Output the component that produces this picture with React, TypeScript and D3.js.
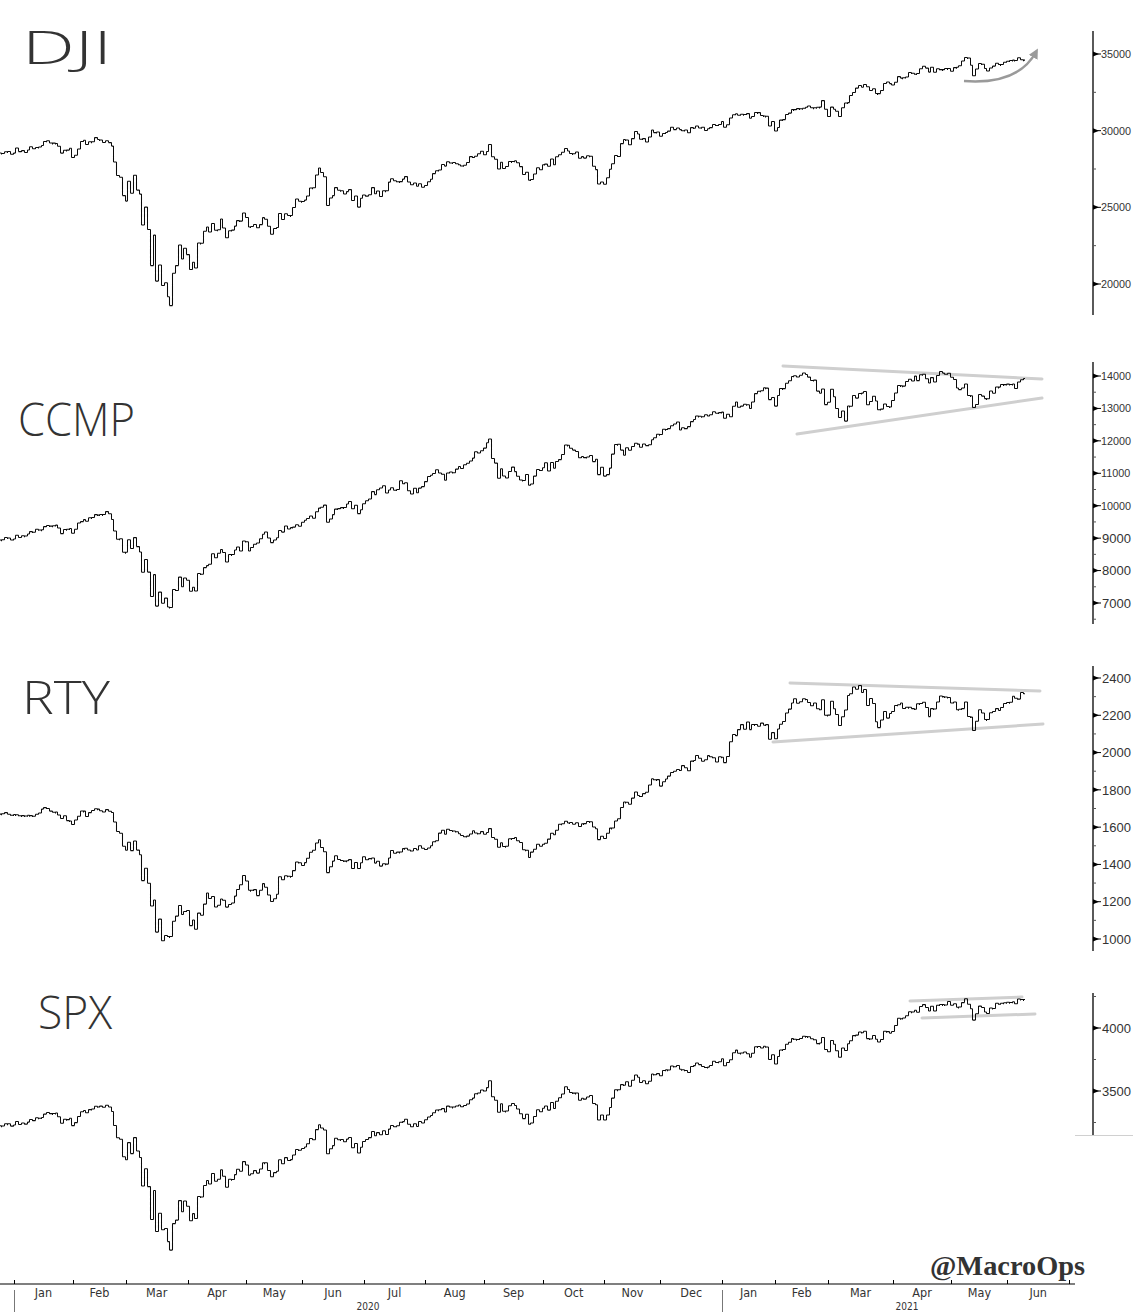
import React, { useMemo } from "react";
import * as d3 from "d3";

// ---------- calendar ----------
const START_DAY = "2019-12-23";
const AXIS_END_DAY = "2021-06-30";
const HOLIDAYS = [
  "2019-12-25", "2020-01-01", "2020-01-20", "2020-02-17", "2020-04-10", "2020-05-25",
  "2020-07-03", "2020-09-07", "2020-11-26", "2020-12-25", "2021-01-01", "2021-01-18",
  "2021-02-15", "2021-04-02", "2021-05-31",
];
const MONTH_KEYS = [
  "2019-12", "2020-01", "2020-02", "2020-03", "2020-04", "2020-05", "2020-06", "2020-07",
  "2020-08", "2020-09", "2020-10", "2020-11", "2020-12", "2021-01", "2021-02", "2021-03",
  "2021-04", "2021-05", "2021-06",
];
const MONTH_LABELS = ["Jan", "Feb", "Mar", "Apr", "May", "Jun", "Jul", "Aug", "Sep", "Oct", "Nov", "Dec"];

// ---------- daily closes, one row per month ----------
const DJI_CLOSE = [
  [28551, 28516, 28621, 28645, 28462, 28538],
  [28869, 28635, 28703, 28584, 28745, 28957, 28824, 28907, 28940, 29030, 29298, 29348, 29196, 29186, 29160, 28990, 28536, 28723, 28735, 28859, 28256],
  [28400, 28808, 29291, 29380, 29103, 29277, 29276, 29551, 29423, 29398, 29232, 29348, 29220, 28992, 27961, 27081, 26958, 25767, 25409],
  [26703, 25917, 27091, 26121, 25865, 23851, 25018, 23553, 21201, 23186, 20189, 21237, 19899, 20087, 19174, 18592, 20705, 21201, 22552, 21637, 22328, 21917],
  [20944, 21413, 21053, 22680, 22654, 23434, 23719, 23391, 23950, 23504, 23538, 24243, 23650, 23019, 23476, 23515, 23775, 24134, 24102, 24634, 24346],
  [23724, 23750, 23883, 23665, 23876, 24331, 24222, 23765, 23248, 23625, 23685, 24597, 24207, 24576, 24474, 24465, 24995, 25548, 25401, 25383],
  [25475, 25743, 26270, 26282, 27111, 27572, 27272, 26990, 25128, 25606, 25763, 26290, 26120, 26080, 25872, 26025, 26156, 25446, 25746, 25016, 25596, 25813],
  [25735, 25827, 26287, 25890, 26067, 25706, 26075, 26086, 26643, 26870, 26735, 26672, 26681, 26840, 27006, 26652, 26470, 26585, 26379, 26540, 26314, 26428],
  [26664, 26829, 27202, 27387, 27434, 27791, 27687, 27977, 27897, 27931, 27845, 27778, 27693, 27740, 27930, 28309, 28248, 28332, 28492, 28654, 28430],
  [28646, 29101, 28293, 28133, 27501, 27941, 27535, 27666, 27993, 27996, 28032, 27902, 27657, 27148, 27288, 26763, 26815, 27174, 27584, 27453, 27782],
  [27817, 27683, 28149, 27773, 28304, 28426, 28587, 28838, 28680, 28514, 28494, 28606, 28195, 28309, 28211, 28364, 28336, 27685, 27463, 26520, 26659, 26502],
  [26925, 27480, 27848, 28390, 28323, 29158, 29421, 29398, 29080, 29480, 29950, 29783, 29438, 29483, 29264, 29591, 30046, 29873, 29910, 29639],
  [29824, 29884, 29970, 30218, 30070, 30174, 30069, 29999, 30046, 29862, 30199, 30155, 30303, 30179, 30217, 30016, 30130, 30200, 30404, 30336, 30410, 30607],
  [30224, 30392, 30829, 31041, 31098, 31009, 31069, 31061, 31113, 30814, 30931, 31188, 31176, 30997, 30960, 30937, 30303, 30603, 29983],
  [30212, 30688, 30724, 31056, 31148, 31386, 31376, 31438, 31431, 31458, 31523, 31613, 31493, 31494, 31522, 31537, 31962, 31402, 30932],
  [31535, 31392, 31270, 30924, 31496, 31802, 31833, 32297, 32486, 32779, 32954, 32826, 33015, 32862, 32628, 32731, 32423, 32420, 32620, 33073, 33171, 33067, 32982],
  [33153, 33527, 33430, 33446, 33504, 33801, 33745, 33677, 33731, 34036, 34201, 34078, 33821, 34137, 33816, 34044, 33982, 33985, 34060, 34060, 33875],
  [34113, 34133, 34230, 34549, 34778, 34743, 34269, 33588, 34022, 34382, 34328, 34061, 33896, 34084, 34208, 34394, 34313, 34323, 34465, 34529],
  [34575, 34600, 34577, 34756, 34630, 34600],
];

const CCMP_CLOSE = [
  [8946, 8953, 9022, 9007, 8946, 8973],
  [9092, 9021, 9072, 9069, 9129, 9203, 9179, 9274, 9251, 9259, 9357, 9389, 9371, 9384, 9403, 9315, 9139, 9270, 9275, 9299, 9151],
  [9273, 9468, 9509, 9572, 9521, 9628, 9639, 9726, 9712, 9731, 9733, 9817, 9751, 9577, 9221, 8966, 8981, 8567, 8567],
  [8952, 8684, 9018, 8739, 8576, 7951, 8344, 7952, 7202, 7875, 6905, 7335, 6990, 7151, 6880, 6861, 7418, 7384, 7798, 7502, 7774, 7700],
  [7361, 7487, 7373, 7913, 7887, 8091, 8154, 8192, 8516, 8393, 8532, 8650, 8561, 8263, 8495, 8495, 8635, 8730, 8608, 8915, 8890],
  [8605, 8711, 8809, 8854, 8980, 9121, 9192, 9003, 8863, 8944, 9015, 9235, 9185, 9376, 9285, 9325, 9340, 9412, 9369, 9490],
  [9552, 9608, 9683, 9616, 9814, 9925, 9954, 10020, 9493, 9589, 9726, 9896, 9911, 9943, 9946, 10057, 10131, 9909, 10017, 9757, 9874, 10059],
  [10155, 10208, 10434, 10344, 10493, 10548, 10617, 10391, 10489, 10551, 10474, 10503, 10767, 10680, 10706, 10461, 10363, 10536, 10402, 10543, 10588, 10745],
  [10903, 10941, 10998, 11108, 11011, 10968, 10783, 11012, 11043, 11019, 11130, 11211, 11147, 11265, 11312, 11380, 11467, 11665, 11625, 11696, 11776],
  [11940, 12056, 11458, 11313, 10848, 11142, 10920, 10854, 11057, 11190, 11051, 10910, 10793, 10779, 10964, 10633, 10672, 10914, 11118, 11085, 11168],
  [11327, 11075, 11333, 11155, 11365, 11421, 11580, 11876, 11864, 11769, 11714, 11672, 11479, 11517, 11485, 11506, 11548, 11359, 11431, 10958, 11186, 10912],
  [10958, 11161, 11591, 11891, 11895, 11714, 11554, 11786, 11710, 11829, 11924, 11899, 11802, 11905, 11855, 11881, 12037, 12094, 12206, 12199],
  [12355, 12349, 12377, 12464, 12520, 12583, 12339, 12406, 12378, 12440, 12595, 12658, 12765, 12756, 12743, 12808, 12771, 12805, 12899, 12850, 12870, 12888],
  [12698, 12819, 12741, 13068, 13202, 13036, 13072, 13129, 13113, 12999, 13197, 13457, 13531, 13543, 13636, 13626, 13271, 13337, 13071],
  [13403, 13613, 13611, 13778, 13856, 13988, 14008, 13973, 14026, 14096, 14048, 13966, 13865, 13875, 13533, 13465, 13598, 13119, 13192],
  [13589, 13359, 12998, 12724, 12920, 12609, 13074, 13069, 13399, 13320, 13460, 13472, 13525, 13116, 13215, 13378, 13228, 12962, 12978, 13139, 13060, 13045, 13247],
  [13480, 13706, 13698, 13689, 13829, 13900, 13850, 13996, 13858, 14039, 14052, 13915, 13786, 13950, 13818, 14017, 14139, 14090, 14051, 14083, 13963],
  [13895, 13634, 13582, 13633, 13752, 13402, 13389, 13032, 13125, 13430, 13379, 13304, 13300, 13536, 13471, 13661, 13657, 13738, 13736, 13749],
  [13737, 13756, 13615, 13815, 13882, 13925],
];

const RTY_CLOSE = [
  [1670, 1672, 1678, 1669, 1664, 1668],
  [1667, 1661, 1662, 1660, 1664, 1662, 1658, 1669, 1676, 1697, 1705, 1700, 1686, 1680, 1681, 1665, 1647, 1661, 1635, 1633, 1614],
  [1639, 1658, 1687, 1686, 1657, 1678, 1690, 1699, 1697, 1688, 1682, 1694, 1685, 1679, 1628, 1577, 1567, 1498, 1476],
  [1519, 1474, 1526, 1477, 1452, 1313, 1380, 1299, 1177, 1210, 1037, 1107, 991, 1019, 1014, 1014, 1095, 1123, 1180, 1132, 1148, 1153],
  [1072, 1102, 1052, 1139, 1127, 1187, 1247, 1218, 1228, 1172, 1181, 1215, 1208, 1171, 1185, 1193, 1230, 1266, 1291, 1341, 1311],
  [1261, 1262, 1265, 1233, 1262, 1297, 1278, 1236, 1201, 1216, 1240, 1334, 1318, 1339, 1337, 1336, 1367, 1413, 1409, 1394],
  [1410, 1433, 1465, 1476, 1515, 1532, 1491, 1468, 1356, 1388, 1418, 1447, 1427, 1421, 1418, 1420, 1426, 1378, 1411, 1378, 1409, 1441],
  [1425, 1431, 1435, 1407, 1417, 1391, 1404, 1402, 1435, 1475, 1460, 1466, 1467, 1485, 1487, 1478, 1472, 1486, 1478, 1500, 1487, 1480],
  [1488, 1500, 1522, 1527, 1568, 1583, 1562, 1589, 1582, 1580, 1575, 1565, 1555, 1549, 1552, 1564, 1581, 1569, 1565, 1576, 1562],
  [1571, 1592, 1545, 1535, 1492, 1516, 1496, 1497, 1538, 1539, 1545, 1527, 1518, 1479, 1476, 1437, 1466, 1481, 1508, 1497, 1508],
  [1514, 1536, 1567, 1559, 1583, 1615, 1618, 1632, 1622, 1625, 1615, 1624, 1604, 1618, 1619, 1631, 1629, 1601, 1591, 1533, 1551, 1539],
  [1567, 1595, 1596, 1633, 1645, 1706, 1735, 1734, 1723, 1756, 1789, 1770, 1765, 1780, 1787, 1826, 1860, 1854, 1855, 1820],
  [1843, 1858, 1874, 1893, 1900, 1909, 1904, 1930, 1919, 1902, 1954, 1958, 1985, 1970, 1953, 1961, 1984, 1978, 1972, 1950, 1978, 1975],
  [1946, 1979, 2058, 2097, 2091, 2123, 2150, 2125, 2164, 2123, 2151, 2151, 2141, 2158, 2147, 2150, 2071, 2107, 2074],
  [2127, 2152, 2167, 2213, 2233, 2266, 2289, 2265, 2273, 2289, 2285, 2269, 2251, 2266, 2235, 2230, 2283, 2200, 2201],
  [2275, 2235, 2205, 2146, 2192, 2229, 2306, 2315, 2352, 2340, 2360, 2323, 2339, 2253, 2290, 2264, 2165, 2134, 2175, 2221, 2185, 2210, 2221],
  [2253, 2257, 2266, 2237, 2243, 2243, 2236, 2232, 2262, 2264, 2270, 2242, 2193, 2236, 2234, 2272, 2304, 2300, 2298, 2296, 2266],
  [2271, 2230, 2232, 2236, 2271, 2194, 2190, 2119, 2168, 2230, 2213, 2178, 2178, 2214, 2221, 2236, 2226, 2242, 2263, 2269],
  [2270, 2302, 2291, 2287, 2323, 2316],
];

const SPX_CLOSE = [
  [3224.0, 3223.4, 3239.9, 3240.0, 3221.3, 3230.8],
  [3257.9, 3234.9, 3246.3, 3237.2, 3253.1, 3274.7, 3265.4, 3288.1, 3283.2, 3289.3, 3316.8, 3329.6, 3320.8, 3321.8, 3325.5, 3295.5, 3243.6, 3276.2, 3273.4, 3283.7, 3225.5],
  [3248.9, 3297.6, 3334.7, 3345.8, 3327.7, 3352.1, 3357.8, 3379.5, 3373.9, 3380.2, 3370.3, 3386.2, 3373.2, 3337.8, 3225.9, 3128.2, 3116.4, 2978.8, 2954.2],
  [3090.2, 3003.4, 3130.1, 3023.9, 2972.4, 2746.6, 2882.2, 2741.4, 2480.6, 2711.0, 2386.1, 2529.2, 2398.1, 2409.4, 2304.9, 2237.4, 2447.3, 2475.6, 2630.1, 2541.5, 2626.7, 2584.6],
  [2470.5, 2526.9, 2488.7, 2663.7, 2659.4, 2750.0, 2789.8, 2761.6, 2846.1, 2783.4, 2799.6, 2874.6, 2823.2, 2736.6, 2799.3, 2797.8, 2836.7, 2878.5, 2863.4, 2939.5, 2912.4],
  [2830.7, 2842.7, 2868.4, 2848.4, 2881.2, 2929.8, 2930.3, 2870.1, 2820.0, 2852.5, 2863.7, 2953.9, 2922.9, 2971.6, 2948.5, 2955.5, 2991.8, 3036.1, 3029.7, 3044.3],
  [3055.7, 3080.8, 3122.9, 3112.4, 3193.9, 3232.4, 3207.2, 3190.1, 3002.1, 3041.3, 3066.6, 3124.7, 3113.5, 3115.3, 3097.7, 3117.9, 3131.3, 3050.3, 3083.8, 3009.1, 3053.2, 3100.3],
  [3115.9, 3130.0, 3179.7, 3145.3, 3169.9, 3152.1, 3185.0, 3155.2, 3197.5, 3226.6, 3215.6, 3224.7, 3251.8, 3257.3, 3276.0, 3235.7, 3215.6, 3239.4, 3218.4, 3258.4, 3246.2, 3271.1],
  [3294.6, 3306.5, 3327.8, 3349.2, 3351.3, 3360.5, 3333.7, 3380.4, 3373.4, 3372.9, 3382.0, 3389.8, 3374.9, 3385.5, 3397.2, 3431.3, 3443.6, 3478.7, 3484.6, 3508.0, 3500.3],
  [3526.7, 3580.8, 3455.1, 3427.0, 3331.8, 3399.0, 3339.2, 3341.0, 3383.5, 3401.2, 3385.5, 3357.0, 3319.5, 3281.1, 3315.6, 3236.9, 3246.6, 3298.5, 3351.6, 3335.5, 3363.0],
  [3380.8, 3348.4, 3408.6, 3361.0, 3419.4, 3446.8, 3477.1, 3534.2, 3511.9, 3488.7, 3483.3, 3483.8, 3426.9, 3443.1, 3435.6, 3453.5, 3465.4, 3401.0, 3390.7, 3271.0, 3310.1, 3270.0],
  [3310.2, 3369.2, 3443.4, 3510.5, 3509.4, 3550.5, 3545.5, 3572.7, 3537.0, 3585.2, 3626.9, 3609.5, 3567.8, 3581.9, 3557.5, 3577.6, 3635.4, 3629.7, 3638.4, 3621.6],
  [3662.5, 3669.0, 3666.7, 3699.1, 3692.0, 3702.3, 3672.8, 3668.1, 3663.5, 3647.5, 3694.6, 3701.2, 3722.5, 3709.4, 3694.9, 3687.3, 3690.0, 3703.1, 3735.4, 3727.0, 3732.0, 3756.1],
  [3700.7, 3726.9, 3748.1, 3803.8, 3824.7, 3799.6, 3801.2, 3809.8, 3795.5, 3768.3, 3798.9, 3851.9, 3853.1, 3841.5, 3855.4, 3849.6, 3750.8, 3787.4, 3714.2],
  [3773.9, 3826.3, 3830.2, 3871.7, 3886.8, 3915.6, 3911.2, 3909.9, 3916.4, 3934.8, 3932.6, 3931.3, 3914.0, 3906.7, 3876.5, 3881.4, 3925.4, 3829.3, 3811.2],
  [3901.8, 3870.3, 3819.7, 3768.5, 3841.9, 3821.4, 3875.4, 3898.8, 3939.3, 3943.3, 3968.9, 3962.7, 3974.1, 3915.5, 3913.1, 3940.6, 3910.5, 3889.1, 3909.5, 3974.5, 3971.1, 3958.6, 3972.9],
  [4019.9, 4077.9, 4073.9, 4080.0, 4097.2, 4128.8, 4128.0, 4141.6, 4124.7, 4170.4, 4185.5, 4163.3, 4134.9, 4173.4, 4135.0, 4180.2, 4187.6, 4186.7, 4183.2, 4211.5, 4181.2],
  [4192.7, 4164.7, 4167.6, 4201.6, 4232.6, 4188.4, 4152.1, 4063.0, 4112.5, 4173.9, 4163.3, 4127.8, 4115.7, 4159.1, 4155.9, 4197.1, 4188.1, 4196.0, 4200.9, 4204.1],
  [4202.0, 4208.1, 4192.9, 4229.9, 4226.5, 4227.3],
];

// ---------- axis ticks ----------
const DJI_MAJOR = [20000, 25000, 30000, 35000];
const DJI_MINOR = [22500, 27500, 32500];
const CCMP_MAJOR = [7000, 8000, 9000, 10000, 11000, 12000, 13000, 14000];
const CCMP_MINOR = [6500, 7500, 8500, 9500, 10500, 11500, 12500, 13500];
const RTY_MAJOR = [1000, 1200, 1400, 1600, 1800, 2000, 2200, 2400];
const RTY_MINOR = [1100, 1300, 1500, 1700, 1900, 2100, 2300];
const SPX_MAJOR = [3500, 4000];
const SPX_MINOR = [3250, 3750, 4250];

// ---------- helpers ----------
function tradingDays(start: string, end: string): string[] {
  const out: string[] = [];
  const hol = new Set(HOLIDAYS);
  const d = new Date(start + "T00:00:00Z");
  const e = new Date(end + "T00:00:00Z");
  while (d <= e) {
    const wd = d.getUTCDay();
    const s = d.toISOString().slice(0, 10);
    if (wd !== 0 && wd !== 6 && !hol.has(s)) out.push(s);
    d.setUTCDate(d.getUTCDate() + 1);
  }
  return out;
}

type Bar = { i: number; o: number; h: number; l: number; c: number };

function buildBars(days: string[], rows: number[][]): Bar[] {
  const pts: { i: number; c: number }[] = [];
  MONTH_KEYS.forEach((mk, m) => {
    const idx = days.map((d, i) => (d.startsWith(mk) ? i : -1)).filter((i) => i >= 0);
    rows[m].forEach((c, k) => {
      if (k < idx.length) pts.push({ i: idx[k], c });
    });
  });
  return pts.map((p, k) => {
    const o = k > 0 ? pts[k - 1].c : p.c;
    return { i: p.i, o, c: p.c, h: Math.max(o, p.c), l: Math.min(o, p.c) };
  });
}

const INK = "#0a0a0a";
const TEXT = "#333";
const LABEL_FONT = "'Liberation Sans', Arial, sans-serif";

function Panel(props: {
  bars: Bar[];
  x: (i: number) => number;
  domain: [number, number];
  range: [number, number];
  axisTop: number;
  axisBottom: number;
  major: number[];
  minor: number[];
}) {
  const { bars, x, domain, range, axisTop, axisBottom, major, minor } = props;
  const y = d3.scaleLinear().domain(domain).range(range);
  const AX = 1093;
  const path = bars
    .map((b) => {
      const xc = Math.round(x(b.i)) + 0.5;
      const yh = y(b.h);
      let yl = y(b.l);
      if (yl - yh < 1.5) yl = yh + 1.5;
      return `M${xc},${yh.toFixed(1)}V${yl.toFixed(1)}M${xc - 1.5},${y(b.o).toFixed(1)}H${xc}M${xc},${y(b.c).toFixed(1)}H${xc + 1.5}`;
    })
    .join("");
  return (
    <g>
      <path d={path} stroke={INK} strokeWidth={1.05} fill="none" />
      <line x1={AX} x2={AX} y1={axisTop} y2={axisBottom} stroke="#000" strokeWidth={1.3} />
      {minor.map((v) => (
        <line key={"m" + v} x1={AX} x2={AX + 3} y1={y(v)} y2={y(v)} stroke="#555" strokeWidth={1} />
      ))}
      {major.map((v) => {
        const s = String(v);
        const long = s.length > 4;
        return (
          <g key={"M" + v}>
            <path d={`M${AX},${y(v) - 2.5}L${AX + 6},${y(v)}L${AX},${y(v) + 2.5}Z`} fill="#000" />
            <line x1={AX} x2={AX + 8} y1={y(v)} y2={y(v)} stroke="#000" strokeWidth={1} />
            <text
              x={long ? AX + 8 : AX + 9}
              y={y(v)}
              dy="0.36em"
              fontSize={long ? 10.8 : 13}
              fill={TEXT}
              fontFamily={LABEL_FONT}
            >
              {s}
            </text>
          </g>
        );
      })}
    </g>
  );
}

export default function App() {
  const W = 1133;
  const H = 1312;
  const model = useMemo(() => {
    if (typeof document !== "undefined") document.body.style.margin = "0";
    const days = tradingDays(START_DAY, AXIS_END_DAY);
    const jan20 = days.findIndex((d) => d.startsWith("2020-01"));
    const jan21 = days.findIndex((d) => d.startsWith("2021-01"));
    const xs = d3.scaleLinear().domain([jan20 - 0.5, jan21 - 0.5]).range([14, 722]);
    const bounds: { idx: number; label: string }[] = [];
    for (let i = 1; i < days.length; i++) {
      const cur = days[i].slice(0, 7);
      const prev = days[i - 1].slice(0, 7);
      if (cur !== prev) bounds.push({ idx: i - 0.5, label: MONTH_LABELS[+cur.slice(5, 7) - 1] });
    }
    bounds.push({ idx: days.length - 0.5, label: "" });
    return {
      xs,
      bounds,
      jan20,
      jan21,
      dji: buildBars(days, DJI_CLOSE),
      ccmp: buildBars(days, CCMP_CLOSE),
      rty: buildBars(days, RTY_CLOSE),
      spx: buildBars(days, SPX_CLOSE),
    };
  }, []);
  const { xs, bounds, jan20, jan21 } = model;
  const x = (i: number) => xs(i);
  const AXY = 1284;
  const titleFont = "'Open Sans', 'DejaVu Sans', sans-serif";
  const axisFont = "'DejaVu Sans Condensed', 'Liberation Sans', sans-serif";

  return (
    <svg width={W} height={H} style={{ position: "absolute", left: 0, top: 0, background: "#fff" }} xmlns="http://www.w3.org/2000/svg">
      <rect width={W} height={H} fill="#fff" />
      <defs>
        <marker id="arr" viewBox="0 0 10 10" refX="6" refY="5" markerWidth="4" markerHeight="4" orient="auto">
          <path d="M0,0L10,5L0,10Z" fill="#9a9a9a" />
        </marker>
      </defs>

      {/* titles */}
      <g fill="#333" fontFamily={titleFont} fontWeight={300} fontSize={46}>
        <text x={22} y={64} textLength={90} lengthAdjust="spacingAndGlyphs">DJI</text>
        <text x={18} y={436} textLength={117} lengthAdjust="spacingAndGlyphs">CCMP</text>
        <text x={22} y={714} textLength={88} lengthAdjust="spacingAndGlyphs">RTY</text>
        <text x={38} y={1029} textLength={74} lengthAdjust="spacingAndGlyphs">SPX</text>
      </g>

      {/* trend lines */}
      <g stroke="#cfcfcf" strokeWidth={3} strokeLinecap="round">
        <line x1={783} y1={366} x2={1042} y2={379} />
        <line x1={797} y1={434} x2={1042} y2={398} />
        <line x1={790} y1={683} x2={1040} y2={691} />
        <line x1={773} y1={742} x2={1043} y2={724} />
        <line x1={910} y1={1001} x2={1022} y2={997} />
        <line x1={922} y1={1018} x2={1035} y2={1014} />
      </g>
      <path d="M964,81 Q1018,85 1036,52" stroke="#9a9a9a" strokeWidth={2.5} fill="none" markerEnd="url(#arr)" />

      <Panel bars={model.dji} x={x} domain={[20000, 35000]} range={[284, 54]} axisTop={31} axisBottom={315} major={DJI_MAJOR} minor={DJI_MINOR} />
      <Panel bars={model.ccmp} x={x} domain={[7000, 14000]} range={[603, 376]} axisTop={362} axisBottom={624} major={CCMP_MAJOR} minor={CCMP_MINOR} />
      <Panel bars={model.rty} x={x} domain={[1000, 2400]} range={[939, 678]} axisTop={666} axisBottom={951} major={RTY_MAJOR} minor={RTY_MINOR} />
      <Panel bars={model.spx} x={x} domain={[3500, 4000]} range={[1091, 1028]} axisTop={993} axisBottom={1135} major={SPX_MAJOR} minor={SPX_MINOR} />
      <line x1={1075} x2={1133} y1={1135.5} y2={1135.5} stroke="#d0d0d0" strokeWidth={1} />

      {/* x axis */}
      <line x1={0} x2={1075} y1={AXY} y2={AXY} stroke="#000" strokeWidth={1.2} />
      {bounds.map((b, k) => {
        const bx = Math.round(x(b.idx)) + 0.5;
        const next = bounds[k + 1];
        const isYear = b.label === "Jan";
        return (
          <g key={k}>
            <line x1={bx} x2={bx} y1={AXY - 4} y2={AXY} stroke="#000" strokeWidth={1} />
            {isYear && <line x1={bx} x2={bx} y1={AXY + 6} y2={H} stroke="#777" strokeWidth={1} />}
            {next && b.label && (
              <text x={(x(b.idx) + x(next.idx)) / 2} y={1296.5} textAnchor="middle" fontSize={12.5} fill={TEXT} fontFamily={axisFont}>
                {b.label}
              </text>
            )}
          </g>
        );
      })}
      <text x={(x(jan20 - 0.5) + x(jan21 - 0.5)) / 2} y={1309.5} textAnchor="middle" fontSize={10} fill={TEXT} fontFamily={axisFont}>2020</text>
      <text x={(x(jan21 - 0.5) + 1092) / 2} y={1309.5} textAnchor="middle" fontSize={10} fill={TEXT} fontFamily={axisFont}>2021</text>

      {/* watermark */}
      <text x={930} y={1275} fontSize={27} fontWeight="bold" fill="#333" fontFamily="'Liberation Serif', 'Times New Roman', serif" textLength={155} lengthAdjust="spacingAndGlyphs">@MacroOps</text>
    </svg>
  );
}
